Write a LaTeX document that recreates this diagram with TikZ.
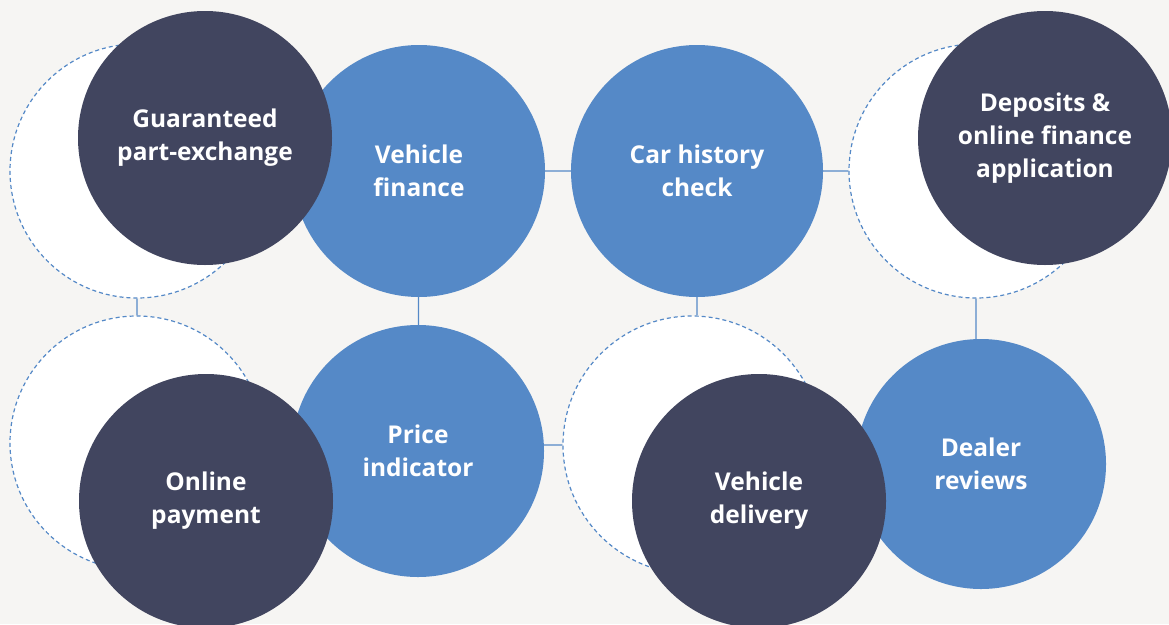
\documentclass[tikz,border=0pt]{standalone}
\usepackage{fontspec}
\setmainfont{Open Sans}
\usetikzlibrary{positioning}
\definecolor{navy}{HTML}{41455F}
\definecolor{steel}{HTML}{5589C7}
\definecolor{paper}{HTML}{F6F5F3}
\tikzset{
	every node/.style={
		font=\fontsize{24.5}{33}\selectfont\bfseries,
		text=white
	},
	feature/.style={
		shape=circle,
		fill=steel,
		minimum size=252pt,
		inner sep=0pt,
		align=center
	},
	extra/.style={
		shape=circle,
		fill=navy,
		minimum size=254pt,
		inner sep=0pt,
		align=center
	},
	slot/.style={
		shape=circle,
		fill=white,
		draw=steel,
		dash pattern=on 4pt off 3pt,
		line width=1.2pt,
		minimum size=254pt
	},
	link/.style={
		draw=steel,
		line width=1.3pt
	}
}

\begin{document}
\begin{tikzpicture}[x=1pt,y=-1pt]
  \useasboundingbox (0,0) rectangle (1169,624);
  \fill[paper] (0,0) rectangle (1169,624);

  \node[slot]          (dtl) at (137,171) {};
  \node[slot]          (dtr) at (976,171) {};
  \node[slot]          (dbl) at (137,443) {};
  \node[slot, minimum size=258pt] (dbm) at (692,445) {};

  \node[feature]       (vf)  at (419,171) {Vehicle\\finance};
  \node[feature]       (ch)  at (697,171) {Car history\\check};
  \node[feature]       (pi)  at (418,451) {Price\\indicator};
  \node[feature, minimum size=250pt] (dr) at (981,464) {Dealer\\reviews};

  \node[extra]         (gpe) at (205,138) {Guaranteed\\part-exchange};
  \node[extra]         (dep) at (1045,138) {Deposits \&\\online finance\\application};
  \node[extra]         (op)  at (206,501) {Online\\payment};
  \node[extra]         (vd)  at (759,501) {Vehicle\\delivery};

  \path[link] (vf) -- (ch)
              (ch) -- (dtr)
              (vf) -- (pi)
              (dtl) -- (dbl)
              (ch.south) -- (ch.south |- dbm.north)
              (dbm.west) -- (dbm.west -| pi.east)
              (dtr.south) -- (dtr.south |- dr.north);
\end{tikzpicture}
\end{document}
